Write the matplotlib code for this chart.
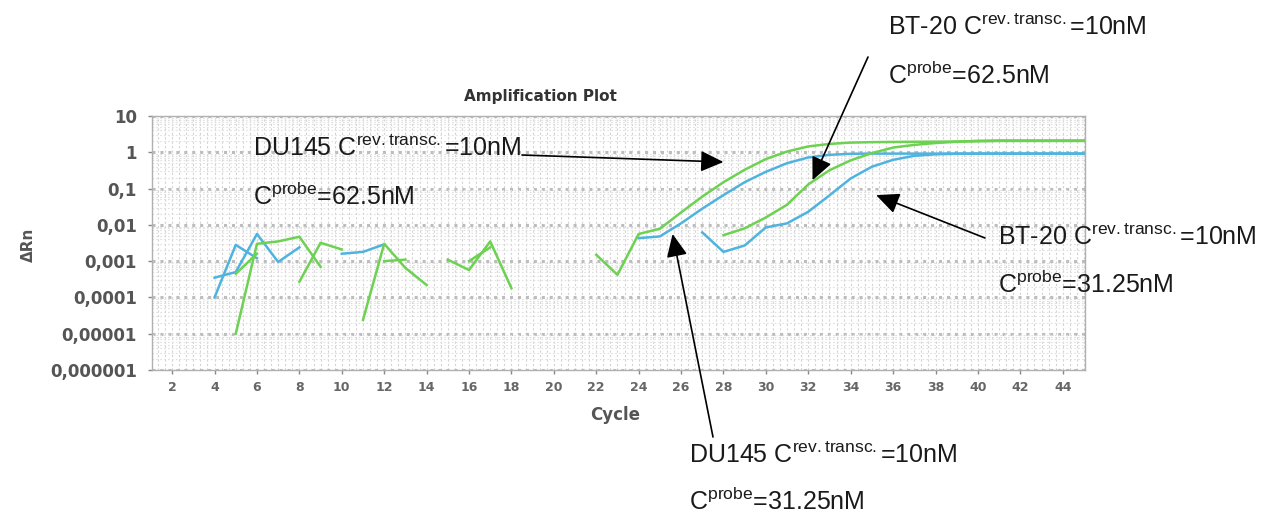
import numpy as np
import matplotlib
matplotlib.use("Agg")
import matplotlib.pyplot as plt
from matplotlib.ticker import FixedLocator, MultipleLocator, LogLocator, NullFormatter

plt.rcParams['mathtext.fontset'] = 'custom'
plt.rcParams['mathtext.rm'] = 'Liberation Sans'
plt.rcParams['mathtext.it'] = 'Liberation Sans:italic'
plt.rcParams['mathtext.bf'] = 'Liberation Sans:bold'

GREEN = '#6dd152'
BLUE = '#4fb3df'

# noisy baseline pieces (cycle, dRn)
blue_a_x = [4, 5, 6]
blue_a_y = [1e-4, 2.8e-3, 1.2e-3]
blue_b_x = [4, 5, 6, 7, 8]
blue_b_y = [3.5e-4, 5e-4, 5.6e-3, 9.5e-4, 2.4e-3]
blue_c_x = [10, 11, 12]
blue_c_y = [1.6e-3, 1.8e-3, 2.9e-3]
green_a_x = [5, 6, 7, 8, 9]
green_a_y = [1e-5, 3.0e-3, 3.5e-3, 4.7e-3, 7e-4]
green_b_x = [5, 6]
green_b_y = [4.5e-4, 1.6e-3]
green_c_x = [8, 9, 10]
green_c_y = [2.7e-4, 3.2e-3, 2.1e-3]
green_d_x = [11, 12, 13, 14]
green_d_y = [2.4e-5, 3.0e-3, 6.5e-4, 2.2e-4]
green_e_x = [12, 13]
green_e_y = [1e-3, 1.1e-3]
green_f_x = [15, 16, 17, 18]
green_f_y = [1.1e-3, 5.7e-4, 3.5e-3, 1.8e-4]
green_g_x = [16, 17]
green_g_y = [1.0e-3, 2.4e-3]

# amplification curves
du145_625_x = list(range(22, 46))
du145_625_y = [1.5e-3, 4.2e-4, 5.6e-3, 7.8e-3, 2.2e-2, 6.0e-2, 0.15, 0.33, 0.65, 1.05,
               1.45, 1.7, 1.85, 1.9, 1.93, 1.95, 1.96, 1.98, 2.0, 2.05, 2.05, 2.05, 2.05, 2.05]
du145_3125_x = list(range(24, 46))
du145_3125_y = [4.3e-3, 4.8e-3, 1.1e-2, 2.8e-2, 6.6e-2, 0.15, 0.29, 0.5, 0.72, 0.85,
                0.91, 0.92, 0.92, 0.92, 0.92, 0.92, 0.92, 0.92, 0.92, 0.92, 0.92, 0.92]
bt20_625_x = list(range(28, 46))
bt20_625_y = [5.2e-3, 8.0e-3, 1.6e-2, 3.6e-2, 0.13, 0.32, 0.6, 0.95, 1.35, 1.6,
              1.8, 1.95, 2.08, 2.12, 2.12, 2.12, 2.12, 2.12]
bt20_3125_x = list(range(27, 46))
bt20_3125_y = [6.2e-3, 1.8e-3, 2.7e-3, 8.5e-3, 1.1e-2, 2.3e-2, 6.5e-2, 0.19, 0.4, 0.62,
               0.8, 0.88, 0.91, 0.92, 0.92, 0.92, 0.92, 0.92, 0.92]

ytick_vals = [1e-6, 1e-5, 1e-4, 1e-3, 1e-2, 1e-1, 1, 10]
ytick_labels = ['0,000001', '0,00001', '0,0001', '0,001', '0,01', '0,1', '1', '10']
xtick_vals = list(range(2, 46, 2))

W, H = 1270, 513
fig = plt.figure(figsize=(W / 100, H / 100), dpi=100)
ax = fig.add_axes([152 / W, 1 - 370 / H, 933 / W, 254 / H])

def px(x, y):
    return (x / W, 1 - y / H)

ax.set_yscale('log')
ax.set_xlim(1.05, 45.05)
ax.set_ylim(1e-6, 10)

# grid
ax.xaxis.set_minor_locator(MultipleLocator(1 / 3))
ax.yaxis.set_minor_locator(LogLocator(base=10, subs=np.arange(2, 10)))
ax.yaxis.set_minor_formatter(NullFormatter())
ax.grid(which='minor', axis='x', color='#d4d4d4', ls=(0, (2, 2)), lw=0.8)
ax.grid(which='minor', axis='y', color='#e0e0e0', ls=(0, (1.5, 2)), lw=0.8)
ax.grid(which='major', axis='y', color='#bdbdbd', ls=(0, (1, 1.6)), lw=2.2)
ax.grid(which='major', axis='x', color='#d4d4d4', ls=(0, (2, 2)), lw=0.8)
ax.set_axisbelow(True)

lw = 1.8
for xs, ys in [(blue_a_x, blue_a_y), (blue_b_x, blue_b_y), (blue_c_x, blue_c_y)]:
    ax.plot(xs, ys, color=BLUE, lw=lw)
for xs, ys in [(green_a_x, green_a_y), (green_b_x, green_b_y), (green_c_x, green_c_y),
               (green_d_x, green_d_y), (green_e_x, green_e_y), (green_f_x, green_f_y),
               (green_g_x, green_g_y)]:
    ax.plot(xs, ys, color=GREEN, lw=lw)
ax.plot(du145_3125_x, du145_3125_y, color=BLUE, lw=lw)
ax.plot(bt20_3125_x, bt20_3125_y, color=BLUE, lw=lw)
ax.plot(du145_625_x, du145_625_y, color=GREEN, lw=lw)
ax.plot(bt20_625_x, bt20_625_y, color=GREEN, lw=lw)

ax.yaxis.set_major_locator(FixedLocator(ytick_vals))
ax.set_yticklabels(ytick_labels)
ax.xaxis.set_major_locator(FixedLocator(xtick_vals))
ax.set_xticklabels([str(v) for v in xtick_vals])
ax.tick_params(axis='y', which='major', length=3, width=1, color='#888888', pad=8,
               labelsize=12, labelcolor='#555555')
ax.tick_params(axis='x', which='major', length=3, width=1, color='#888888', pad=5,
               labelsize=9, labelcolor='#666666')
ax.tick_params(which='minor', length=0)
for lab in ax.get_yticklabels() + ax.get_xticklabels():
    lab.set_fontweight('bold')
    lab.set_family('DejaVu Sans')
for sp in ax.spines.values():
    sp.set_color('#b0b0b0')
    sp.set_linewidth(1)

fig.text(*px(540, 97), 'Amplification Plot', ha='center', va='center',
         fontsize=11, fontweight='bold', color='#333333')
fig.text(*px(615, 415), 'Cycle', ha='center', va='center',
         fontsize=12, fontweight='bold', color='#555555')
fig.text(*px(28, 245), '\u0394Rn', ha='center', va='center', rotation=90,
         fontsize=11, fontweight='bold', color='#555555')

tkw = dict(fontsize=18, family='Liberation Sans', color='#1a1a1a', va='baseline', ha='left')
rt = 'C$^{\\mathregular{rev{.}transc{.}}}$=10nM'
fig.text(*px(253, 156), 'DU145 ' + rt, **tkw)
fig.text(*px(253, 205), 'C$^{\\mathregular{probe}}$=62.5nM', **tkw)
fig.text(*px(888, 35), 'BT-20 ' + rt, **tkw)
fig.text(*px(888, 84), 'C$^{\\mathregular{probe}}$=62.5nM', **tkw)
fig.text(*px(998, 245), 'BT-20 ' + rt, **tkw)
fig.text(*px(998, 293), 'C$^{\\mathregular{probe}}$=31.25nM', **tkw)
fig.text(*px(689, 463), 'DU145 ' + rt, **tkw)
fig.text(*px(689, 510), 'C$^{\\mathregular{probe}}$=31.25nM', **tkw)

aprops = dict(arrowstyle='-|>,head_length=0.7,head_width=0.32', color='black',
              lw=1.2, mutation_scale=20, shrinkA=0, shrinkB=0)
ax.annotate('', xy=(28.0, 0.54), xycoords='data', xytext=px(522, 155),
            textcoords='figure fraction', arrowprops=aprops, annotation_clip=False)
ax.annotate('', xy=(32.2, 0.17), xycoords='data', xytext=px(868, 57),
            textcoords='figure fraction', arrowprops=aprops, annotation_clip=False)
ax.annotate('', xy=(35.2, 0.066), xycoords='data', xytext=px(985, 238),
            textcoords='figure fraction', arrowprops=aprops, annotation_clip=False)
ax.annotate('', xy=(25.6, 0.0056), xycoords='data', xytext=px(713, 437),
            textcoords='figure fraction', arrowprops=aprops, annotation_clip=False)

fig.savefig('out.png', dpi=100)
